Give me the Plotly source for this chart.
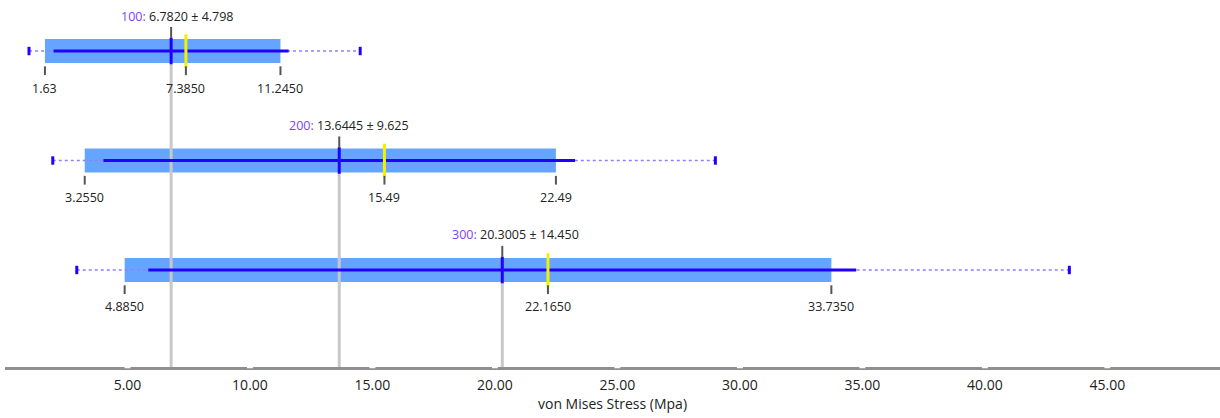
import plotly.graph_objects as go

# Load-case groups and their von Mises stress statistics (MPa)
groups = ["100", "200", "300"]
means = [6.7820, 13.6445, 20.3005]
stds = [4.798, 9.625, 14.450]
q1 = [1.63, 3.255, 4.885]
medians = [7.385, 15.49, 22.165]
q3 = [11.245, 22.49, 33.735]
mins = [0.98, 1.95, 2.93]
maxs = [14.50, 29.00, 43.45]
q1_text = ["1.63", "3.2550", "4.8850"]
median_text = ["7.3850", "15.49", "22.1650"]
q3_text = ["11.2450", "22.49", "33.7350"]
mean_text = ["6.7820 ± 4.798", "13.6445 ± 9.625", "20.3005 ± 14.450"]
axis_ticks = [5, 10, 15, 20, 25, 30, 35, 40, 45]
axis_tick_text = ["5.00", "10.00", "15.00", "20.00", "25.00", "30.00", "35.00", "40.00", "45.00"]

FONT = "Open Sans"
BOX_COLOR = "#66A5FF"
LINE_BLUE = "#2200FF"
DOT_BLUE = "#9080FF"
GRID_GREY = "#C8C8C8"
TICK_GREY = "#555555"
LABEL_PURPLE = "#7B3FFF"

X_RANGE = [0.0, 49.6]
Y_RANGE = [2.886, -0.466]
BOX_H = 0.22

rows = list(range(len(groups)))
fig = go.Figure()

# Interquartile boxes
fig.add_trace(go.Bar(
    y=rows, x=[b - a for a, b in zip(q1, q3)], base=q1, orientation="h",
    width=BOX_H, marker=dict(color=BOX_COLOR, line=dict(width=0)),
    hoverinfo="skip", showlegend=False,
))

for i in rows:
    # grey guide line under each group, from the box down to the axis
    fig.add_trace(go.Scatter(
        x=[means[i], means[i]], y=[i + BOX_H / 2 + 0.01, Y_RANGE[0]],
        mode="lines", line=dict(color=GRID_GREY, width=3),
        hoverinfo="skip", showlegend=False, cliponaxis=True,
    ))

for i in rows:
    # min..max dotted whisker
    fig.add_trace(go.Scatter(
        x=[mins[i], maxs[i]], y=[i, i], mode="lines",
        line=dict(color=DOT_BLUE, width=1.5, dash="dot"),
        hoverinfo="skip", showlegend=False,
    ))
    # mean ± std solid span
    fig.add_trace(go.Scatter(
        x=[means[i] - stds[i], means[i] + stds[i]], y=[i, i], mode="lines",
        line=dict(color=LINE_BLUE, width=3),
        hoverinfo="skip", showlegend=False,
    ))
    # whisker end caps
    fig.add_trace(go.Scatter(
        x=[mins[i], maxs[i]], y=[i, i], mode="markers",
        marker=dict(symbol="line-ns", size=6, line=dict(color=LINE_BLUE, width=3)),
        hoverinfo="skip", showlegend=False,
    ))
    # mean marker
    fig.add_trace(go.Scatter(
        x=[means[i]], y=[i], mode="markers",
        marker=dict(symbol="line-ns", size=19, line=dict(color=LINE_BLUE, width=3)),
        hoverinfo="skip", showlegend=False,
    ))
    # median marker
    fig.add_trace(go.Scatter(
        x=[medians[i]], y=[i], mode="markers",
        marker=dict(symbol="line-ns", size=24, line=dict(color="#F2F200", width=3)),
        hoverinfo="skip", showlegend=False,
    ))

annotations = []
shapes = []
for i in rows:
    # short ticks under the box at Q1, median, Q3 with their labels
    for xv, txt in ((q1[i], q1_text[i]), (medians[i], median_text[i]), (q3[i], q3_text[i])):
        annotations.append(dict(
            x=xv, y=i, xref="x", yref="y", text=txt, showarrow=False,
            yshift=-37, font=dict(family=FONT, size=12.5, color="#222222"),
        ))
        shapes.append(dict(
            type="line", xref="x", yref="y", x0=xv, x1=xv,
            y0=i + BOX_H / 2 + 0.03, y1=i + BOX_H / 2 + 0.11,
            line=dict(color=TICK_GREY, width=2),
        ))
    # tick above the box at the mean, with the group label
    shapes.append(dict(
        type="line", xref="x", yref="y", x0=means[i], x1=means[i],
        y0=i - BOX_H / 2 - 0.01, y1=i - BOX_H / 2 - 0.11,
        line=dict(color=TICK_GREY, width=2),
    ))
    annotations.append(dict(
        x=means[i], y=i, xref="x", yref="y", xanchor="left",
        xshift=-52, yshift=35, showarrow=False,
        text=f"<span style='color:{LABEL_PURPLE}'>{groups[i]}: </span>{mean_text[i]}",
        font=dict(family=FONT, size=12.5, color="#222222"),
    ))

# white notches on the axis line at each tick value
for t in axis_ticks:
    shapes.append(dict(
        type="line", xref="x", yref="paper", x0=t - 0.12, x1=t + 0.12,
        y0=0, y1=0, line=dict(color="#FFFFFF", width=2.5), layer="above",
    ))

fig.update_layout(
    width=1220, height=418,
    margin=dict(l=5, r=0, t=0, b=51),
    paper_bgcolor="white", plot_bgcolor="white",
    barmode="overlay", showlegend=False,
    annotations=annotations, shapes=shapes,
    font=dict(family=FONT, size=12, color="#222222"),
    xaxis=dict(
        range=X_RANGE, showgrid=False, zeroline=False,
        showline=True, linecolor="#8F8F8F", linewidth=3,
        tickvals=axis_ticks, ticktext=axis_tick_text,
        ticks="outside", ticklen=3, tickcolor="rgba(0,0,0,0)",
        tickfont=dict(family=FONT, size=14, color="#222222"),
        title=dict(text="von Mises Stress (Mpa)", standoff=5,
                   font=dict(family=FONT, size=14, color="#222222")),
    ),
    yaxis=dict(range=Y_RANGE, visible=False, showgrid=False, zeroline=False),
)

fig.write_html("out.html")
